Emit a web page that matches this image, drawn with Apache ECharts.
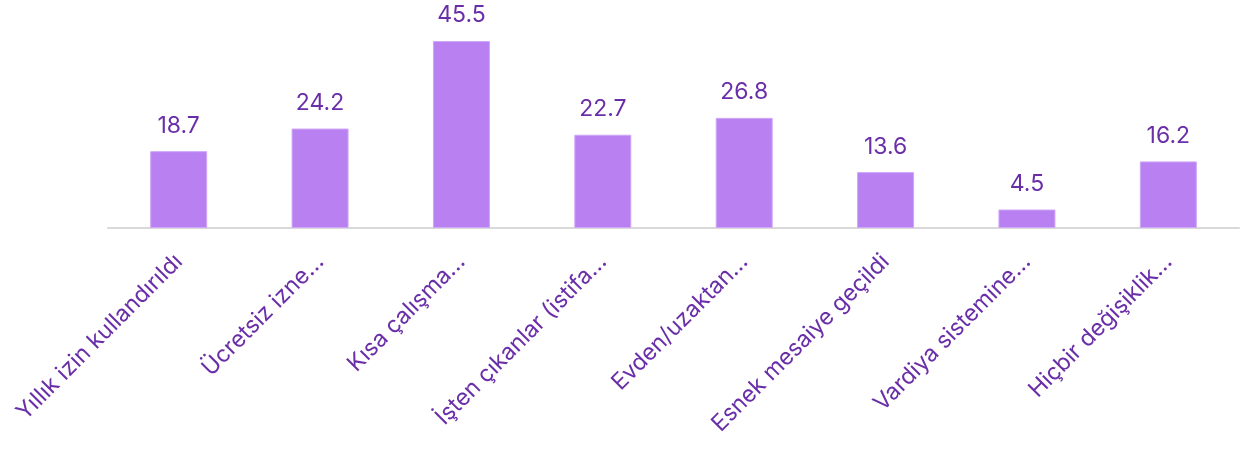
<!DOCTYPE html>
<html>
<head>
<meta charset="utf-8">
<script src="https://cdn.jsdelivr.net/npm/echarts@6/dist/echarts.min.js"></script>
<style>
  html, body { margin: 0; padding: 0; background: #fff; }
  #chart { width: 1242px; height: 457px; }
</style>
</head>
<body>
<div id="chart"></div>
<script>
// kategoriler (etiketler resimdeki gibi kısaltılmış)
const categories = [
  'Yıllık izin kullandırıldı',
  'Ücretsiz izne…',
  'Kısa çalışma…',
  'İşten çıkanlar (istifa…',
  'Evden/uzaktan…',
  'Esnek mesaiye geçildi',
  'Vardiya sistemine…',
  'Hiçbir değişiklik…'
];
const values = [18.7, 24.2, 45.5, 22.7, 26.8, 13.6, 4.5, 16.2];

const chart = echarts.init(document.getElementById('chart'));
const font = 'Inter, "Noto Sans", sans-serif';

const option = {
  animation: false,
  grid: {
    left: 108,
    right: 3,
    top: 41,
    bottom: 229,
    containLabel: false
  },
  xAxis: {
    type: 'category',
    data: categories,
    axisLine: { show: true, lineStyle: { color: '#d9d9d9', width: 2 } },
    axisTick: { show: false },
    axisLabel: {
      rotate: 45,
      interval: 0,
      margin: 30,
      color: '#6a2fa8',
      fontSize: 23,
      fontFamily: font
    }
  },
  yAxis: {
    type: 'value',
    min: 0,
    max: 45.5,
    show: false,
    splitLine: { show: false }
  },
  series: [{
    type: 'bar',
    data: values,
    barWidth: 57,
    itemStyle: { color: '#b980f2', borderColor: '#cfa8f7', borderWidth: 1 },
    label: {
      show: true,
      position: 'top',
      distance: 14,
      color: '#6a2fa8',
      fontSize: 23,
      fontFamily: font
    }
  }]
};

chart.setOption(option);
</script>
</body>
</html>
